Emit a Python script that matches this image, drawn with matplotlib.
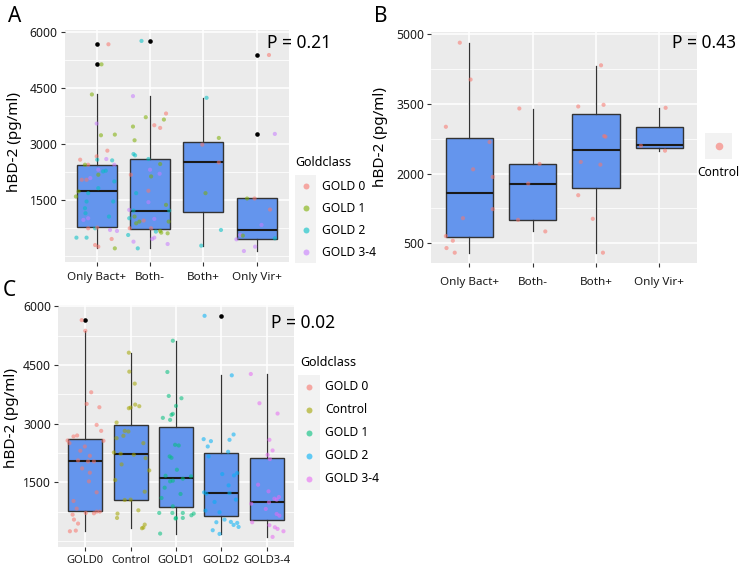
import numpy as np
import matplotlib
matplotlib.use("Agg")
import matplotlib.pyplot as plt
from matplotlib.patches import Rectangle
from matplotlib.lines import Line2D

plt.rcParams['font.family'] = ['Noto Sans', 'DejaVu Sans']

W, H = 744, 568

# ---------------- panel A : bacterial / viral groups, coloured by GOLD class
a_cats = ["Only Bact+", "Both-", "Both+", "Only Vir+"]
a_q1 = [761, 717, 1183, 456]
a_med = [1721, 1210, 2502, 681]
a_q3 = [2430, 2591, 3058, 1533]
a_lo = [196, 196, 268, 124]
a_hi = [4322, 4277, 4232, 1533]
a_out = [[5667, 5128], [5757], [], [5380, 3263]]
a_dx = [
    [0.22, 0.09, -0.09, 0.0, 0.08, 0.34, 0.2, -0.31, -0.16, 0.0, 0.01, 0.18, 0.29, 0.33, -0.22,
     0.03, 0.12, -0.28, -0.19, -0.12, 0.03, 0.17, 0.33, 0.03, -0.34, -0.39, -0.16, -0.19, 0.31, -0.22,
     -0.21, -0.16, -0.25, 0.23, -0.16, -0.03, 0.01, -0.38, -0.19, 0.25, 0.38, 0.28, -0.03, 0.03, 0.34],
    [-0.16, -0.32, -0.08, 0.3, 0.26, 0.08, 0.19, -0.32, -0.29, -0.31, -0.28, -0.03, -0.36, 0.0, 0.19,
     0.18, 0.02, -0.26, -0.03, -0.03, -0.39, -0.31, 0.3, 0.36, -0.39, -0.29, -0.2, -0.12, 0.08, -0.26,
     0.02, 0.35, -0.38, 0.11, 0.19, 0.21, -0.41, 0.33, 0.08, 0.04, -0.31, -0.23, 0.33],
    [0.06, 0.29, -0.02, 0.29, 0.04, 0.33, -0.04],
    [0.23, 0.34, -0.18, -0.04, 0.25, 0.09, -0.38, -0.31, -0.26, 0.34, -0.24, -0.03],
]
a_val = [
    [5667, 5129, 4322, 3542, 3228, 3246, 2815, 2573, 2438, 2663, 2573, 2591, 2555, 2438, 2438,
     2304, 2259, 2035, 2035, 2080, 2169, 2277, 1990, 1810, 1721, 1586, 1676, 1452, 1452, 1272,
     1138, 1003, 958, 1048, 734, 734, 752, 483, 483, 689, 662, 447, 285, 241, 196],
    [5757, 4277, 3712, 3811, 3649, 3497, 3425, 3461, 3093, 2725, 2689, 2591, 2169, 2304, 2456,
     2196, 2124, 1676, 1739, 1434, 1227, 1209, 1362, 1209, 1003, 1048, 913, 940, 985, 868,
     734, 913, 734, 644, 662, 617, 554, 599, 483, 447, 375, 196, 312],
    [4232, 3156, 2976, 2501, 1676, 689, 268],
    [5380, 3264, 1532, 1532, 1236, 824, 438, 554, 537, 465, 124, 241],
]
a_cls = [
    [0, 1, 1, 3, 1, 1, 0, 0, 0, 0, 2, 3, 2, 3, 1, 3, 2, 0, 0, 3, 1, 2, 2, 2, 1,
     1, 2, 2, 2, 2, 2, 3, 3, 2, 0, 2, 0, 2, 2, 3, 3, 0, 0, 0, 1],
    [2, 3, 1, 0, 1, 0, 0, 1, 1, 2, 2, 2, 0, 3, 1, 3, 1, 2, 0, 3, 3, 2, 1, 2, 2,
     1, 1, 0, 3, 1, 0, 1, 0, 2, 1, 1, 2, 1, 3, 3, 3, 2, 3],
    [2, 1, 0, 0, 1, 2, 2],
    [0, 3, 1, 0, 0, 3, 3, 3, 1, 2, 3, 3],
]
a_legend = ["GOLD 0", "GOLD 1", "GOLD 2", "GOLD 3-4"]
a_colors = ["#F8766D", "#7CAE00", "#00BFC4", "#C77CFF"]
a_yticks = [1500, 3000, 4500, 6000]

# ---------------- panel B : controls only
b_cats = ["Only Bact+", "Both-", "Both+", "Only Vir+"]
b_q1 = [640, 1005, 1692, 2551]
b_med = [1585, 1786, 2516, 2609]
b_q3 = [2759, 2208, 3281, 3009]
b_lo = [297, 762, 297, 2494]
b_hi = [4813, 3396, 4326, 3410]
b_dx = [
    [-0.15, 0.02, -0.37, 0.32, 0.06, 0.37, 0.37, -0.1, -0.37, -0.26, -0.36, -0.23],
    [-0.21, 0.11, -0.07, -0.23, 0.2],
    [0.08, -0.28, 0.12, 0.13, 0.15, -0.24, 0.07, -0.28, -0.05, 0.11],
    [0.1, -0.29, 0.09],
]
b_val = [
    [4820, 4026, 3009, 2680, 2093, 1929, 1235, 1041, 655, 555, 397, 297],
    [3403, 2208, 1786, 1005, 755],
    [4333, 3446, 3482, 2809, 2795, 2251, 2193, 1535, 1027, 297],
    [3417, 2601, 2494],
]
b_color = "#F8766D"
b_yticks = [500, 2000, 3500, 5000]

# ---------------- panel C : by GOLD class
c_cats = ["GOLD0", "Control", "GOLD1", "GOLD2", "GOLD3-4"]
c_q1 = [770, 1059, 872, 651, 550]
c_med = [2044, 2214, 1611, 1229, 1008]
c_q3 = [2604, 2961, 2927, 2248, 2120]
c_lo = [252, 329, 193, 184, 108]
c_hi = [5372, 4795, 5117, 4234, 4268]
c_out = [[5644], [], [], [5754], []]
c_dx = [
    [-0.08, 0.0, 0.13, 0.03, 0.31, 0.25, 0.35, -0.26, -0.18, -0.39, -0.35, 0.4, -0.01, -0.11, 0.1,
     -0.16, 0.06, 0.19, -0.07, 0.1, 0.08, 0.25, -0.26, -0.19, 0.01, 0.19, 0.25, 0.32, -0.28, -0.25,
     -0.16, -0.34, -0.21],
    [-0.04, -0.03, 0.09, -0.04, 0.0, 0.1, 0.19, -0.31, -0.13, -0.05, -0.31, -0.16, 0.28, -0.37, -0.22,
     0.07, 0.33, -0.2, 0.41, -0.34, 0.31, -0.13, 0.0, 0.17, -0.29, -0.3, 0.31, 0.25, 0.28],
    [-0.07, -0.19, -0.16, 0.12, -0.1, -0.07, -0.29, -0.13, 0.0, -0.02, 0.06, -0.14, -0.1, 0.02, -0.23,
     0.15, 0.33, -0.25, -0.13, -0.07, 0.1, -0.32, -0.07, -0.37, -0.08, 0.15, 0.15, 0.0, 0.34, 0.39,
     -0.01, -0.35],
    [-0.37, 0.23, 0.27, -0.39, -0.23, -0.3, 0.18, 0.15, -0.28, 0.02, 0.28, 0.35, 0.16, -0.38, -0.33,
     0.18, -0.15, 0.32, -0.35, -0.04, 0.07, 0.21, -0.11, 0.27, 0.35, 0.38, -0.19, -0.04],
    [-0.35, -0.16, 0.24, 0.06, 0.13, 0.02, 0.07, -0.19, 0.04, 0.27, 0.17, 0.22, 0.05, -0.34, -0.02,
     0.22, 0.28, -0.32, 0.06, 0.18, 0.24, 0.37, 0.13],
]
c_val = [
    [5644, 5372, 3801, 3504, 3419, 2969, 2816, 2672, 2698, 2570, 2502, 2562, 2417, 2307, 2180,
     2061, 2035, 2035, 1857, 1747, 1526, 1246, 1025, 830, 720, 711, 754, 754, 677, 550,
     448, 252, 269],
    [4812, 4328, 4022, 3394, 3411, 3487, 3445, 3029, 2816, 2800, 2630, 2689, 2502, 2264, 2231,
     2205, 2120, 1959, 1806, 1560, 1263, 1051, 1059, 787, 703, 592, 422, 329, 346],
    [5117, 4319, 3708, 3649, 3224, 3250, 3148, 3097, 3453, 2460, 2443, 2163, 2129, 1823, 1670,
     1594, 1653, 1365, 1526, 1543, 1204, 1102, 889, 720, 720, 720, 592, 592, 660, 703,
     576, 193],
    [5754, 4234, 2723, 2604, 2553, 2417, 2587, 2282, 2163, 1713, 1679, 1738, 1424, 1246, 1212,
     1229, 1000, 1059, 779, 737, 550, 491, 482, 414, 465, 363, 278, 184],
    [4268, 3521, 3258, 2587, 2316, 2205, 2095, 1441, 1271, 1127, 1085, 1059, 991, 957, 822,
     694, 651, 482, 406, 354, 312, 252, 108],
]
c_legend = ["GOLD 0", "Control", "GOLD 1", "GOLD 2", "GOLD 3-4"]
c_colors = ["#F8766D", "#A3A500", "#00BF7D", "#00B0F6", "#E76BF3"]
c_yticks = [1500, 3000, 4500, 6000]

BOX_FILL = "#6495ED"
EDGE = "#333333"

fig = plt.figure(figsize=(W / 100, H / 100), dpi=100)


def px_axes(l, t, r, b):
    return fig.add_axes([l / W, 1 - b / H, (r - l) / W, (b - t) / H])


def gg_panel(ax, cats, yticks, ylim, xpad, xsize):
    ax.set_facecolor("#EBEBEB")
    for s in ax.spines.values():
        s.set_visible(False)
    ax.set_xlim(0.4, len(cats) + 0.6)
    ax.set_ylim(ylim)
    ax.set_xticks(range(1, len(cats) + 1))
    ax.set_xticklabels(cats)
    ax.set_yticks(yticks)
    step = yticks[1] - yticks[0]
    minor = [m for m in np.arange(yticks[0] - step, yticks[-1] + step, step / 2)
             if m not in yticks and ylim[0] < m < ylim[1]]
    ax.set_yticks(minor, minor=True)
    ax.grid(which="major", color="white", lw=1.1)
    ax.grid(which="minor", axis="y", color="white", lw=0.55)
    ax.set_axisbelow(True)
    ax.tick_params(which="minor", length=0)
    ax.tick_params(which="major", length=3, width=0.8, color=EDGE, labelcolor="#1a1a1a")
    ax.tick_params(axis="x", pad=xpad, labelsize=xsize)
    ax.tick_params(axis="y", pad=2, labelsize=8.8)


def boxes(ax, q1, med, q3, lo, hi, out):
    stats = []
    for i in range(len(q1)):
        stats.append(dict(q1=q1[i], med=med[i], q3=q3[i], whislo=lo[i], whishi=hi[i],
                          fliers=out[i]))
    ax.bxp(stats, positions=range(1, len(q1) + 1), widths=0.75, patch_artist=True,
           showcaps=False, manage_ticks=False,
           boxprops=dict(facecolor=BOX_FILL, edgecolor=EDGE, lw=1.0),
           medianprops=dict(color="#1a1a1a", lw=1.5),
           whiskerprops=dict(color=EDGE, lw=0.9),
           flierprops=dict(marker="o", markerfacecolor="black", markeredgecolor="none",
                           markersize=3.3),
           zorder=2)


def jitter(ax, dx, val, colors):
    for i in range(len(val)):
        x = [i + 1 + d for d in dx[i]]
        ax.scatter(x, val[i], s=9, c=colors[i], alpha=0.55, edgecolors="none", zorder=3)


def legend(title, tx, ty, labels, colors, bl, br, top, step, lx, ms=4.3):
    if title:
        fig.text(tx / W, 1 - ty / H, title, ha="left", va="center", fontsize=9)
    n = len(labels)
    fig.patches.append(Rectangle((bl / W, 1 - (top + step * n) / H), (br - bl) / W,
                                 step * n / H, transform=fig.transFigure,
                                 facecolor="#F2F2F2", edgecolor="none"))
    for i in range(n):
        yc = top + step * (i + 0.5)
        fig.add_artist(Line2D([(bl + br) / 2 / W], [1 - yc / H], marker="o", ms=ms,
                              color=colors[i], alpha=0.6, ls="none",
                              markeredgecolor="none", transform=fig.transFigure))
        fig.text(lx / W, 1 - yc / H, labels[i], ha="left", va="center", fontsize=8.7)


def panel(ax, cats, yticks, ylim, xpad, xsize, q1, med, q3, lo, hi, out, dx, val, colors):
    boxes(ax, q1, med, q3, lo, hi, out)
    jitter(ax, dx, val, colors)
    gg_panel(ax, cats, yticks, ylim, xpad, xsize)


# ---- A
axA = px_axes(64.7, 30, 288.7, 262)
panel(axA, a_cats, a_yticks, (-170, 6050), 4, 8.4, a_q1, a_med, a_q3, a_lo, a_hi, a_out,
      a_dx, a_val, [[a_colors[k] for k in g] for g in a_cls])
fig.text(15 / W, 1 - 142 / H, "hBD-2 (pg/ml)", rotation=90, ha="center", va="center", fontsize=11)
fig.text(267 / W, 1 - 43 / H, "P = 0.21", ha="left", va="center", fontsize=12.5)
legend("Goldclass", 295, 162, a_legend, a_colors, 295, 316, 175, 22, 322)

# ---- B
axB = px_axes(431.3, 32, 697.3, 263)
panel(axB, b_cats, b_yticks, (75, 5050), 7, 8.4, b_q1, b_med, b_q3, b_lo, b_hi,
      [[], [], [], []], b_dx, b_val, [b_color] * 4)
fig.text(381 / W, 1 - 137 / H, "hBD-2 (pg/ml)", rotation=90, ha="center", va="center", fontsize=11)
fig.text(672 / W, 1 - 43 / H, "P = 0.43", ha="left", va="center", fontsize=12.5)
legend(None, 0, 0, [""], [b_color], 705, 732, 133, 26, 0, ms=5.5)
fig.text(718 / W, 1 - 172 / H, "Control", ha="center", va="center", fontsize=8.7)

# ---- C
axC = px_axes(58.1, 305, 293.9, 547)
panel(axC, c_cats, c_yticks, (-150, 6030), 3, 8.0, c_q1, c_med, c_q3, c_lo, c_hi, c_out,
      c_dx, c_val, c_colors)
fig.text(12 / W, 1 - 418 / H, "hBD-2 (pg/ml)", rotation=90, ha="center", va="center", fontsize=11)
fig.text(271 / W, 1 - 323 / H, "P = 0.02", ha="left", va="center", fontsize=12.5)
legend("Goldclass", 300, 362, c_legend, c_colors, 298, 320, 375, 23, 325)

# panel letters
fig.text(15 / W, 1 - 16 / H, "A", ha="center", va="center", fontsize=15)
fig.text(381 / W, 1 - 16 / H, "B", ha="center", va="center", fontsize=15)
fig.text(9 / W, 1 - 290 / H, "C", ha="center", va="center", fontsize=15)

fig.savefig("out.png", dpi=100)
